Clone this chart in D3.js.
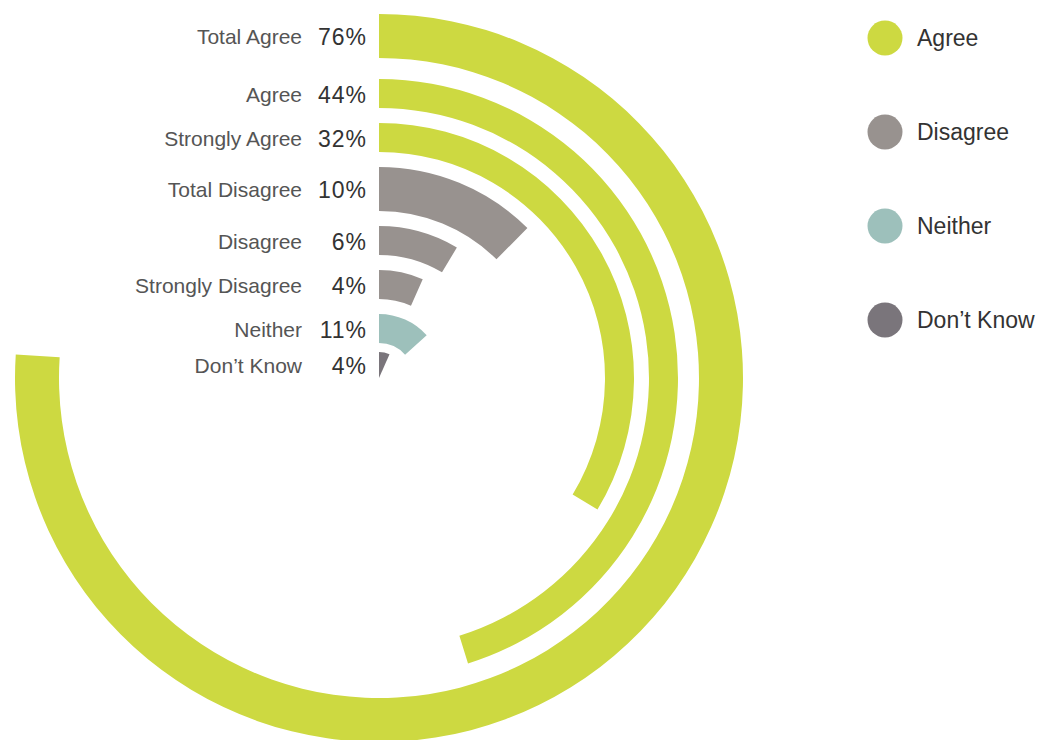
<!DOCTYPE html>
<html>
<head>
<meta charset="utf-8">
<script src="https://cdn.jsdelivr.net/npm/d3@7"></script>
<style>
  body { margin: 0; background: #fff; }
  svg { display: block; font-family: "Liberation Sans", Arial, Helvetica, sans-serif; }
</style>
</head>
<body>
<div id="chart"></div>
<script>
var categories = ["Total Agree", "Agree", "Strongly Agree", "Total Disagree", "Disagree", "Strongly Disagree", "Neither", "Don\u2019t Know"];
var values = [76, 44, 32, 10, 6, 4, 11, 4];
var groups = ["Agree", "Agree", "Agree", "Disagree", "Disagree", "Disagree", "Neither", "Don\u2019t Know"];
var legendKeys = ["Agree", "Disagree", "Neither", "Don\u2019t Know"];
var legendColors = ["#cdd941", "#98928f", "#9dc0bb", "#7a757b"];

document.addEventListener("DOMContentLoaded", function() {
    drawChart(document.querySelector("#chart"));
});

function drawChart(wrapper) {
    var width = 1046, height = 740;
    var cx = 379, cy = 378, outerR = 364;

    var svg = d3.select(wrapper).append("svg")
        .attr("width", width)
        .attr("height", height);

    var color = d3.scaleOrdinal().domain(legendKeys).range(legendColors);

    // sweep: percent -> angle (radians, clockwise from 12 o'clock)
    var angle = d3.scaleLinear()
        .domain([0, 100])
        .range([10 * Math.PI / 180, 357 * Math.PI / 180]);

    // ring radii: "Total" rows are thicker, rings packed inward
    var rings = [];
    var r = outerR;
    var last = categories.length - 1;
    categories.forEach(function(c, i) {
        var thick = c.indexOf("Total") === 0 ? 44 : 29;
        var inner = r - thick;
        rings.push({
            label: c,
            value: values[i],
            group: groups[i],
            outer: r,
            inner: Math.max(0, inner)
        });
        var gap = i === 0 ? 21 : (i === last - 1 ? 9 : 15);
        r = inner - gap;
    });

    var arc = d3.arc()
        .innerRadius(function(d) { return d.inner; })
        .outerRadius(function(d) { return d.outer; })
        .startAngle(0)
        .endAngle(function(d) { return angle(d.value); });

    var g = svg.append("g").attr("transform", "translate(" + cx + "," + cy + ")");

    g.selectAll("path.ring")
        .data(rings)
        .enter().append("path")
        .attr("class", "ring")
        .attr("d", arc)
        .attr("fill", function(d) { return color(d.group); });

    var labelY = function(d) { return cy - (d.outer + d.inner) / 2; };

    svg.selectAll("text.cat")
        .data(rings)
        .enter().append("text")
        .attr("class", "cat")
        .attr("x", 302)
        .attr("y", labelY)
        .attr("dy", "0.4em")
        .attr("text-anchor", "end")
        .attr("font-size", 21)
        .attr("fill", "#555")
        .text(function(d) { return d.label; });

    svg.selectAll("text.val")
        .data(rings)
        .enter().append("text")
        .attr("class", "val")
        .attr("x", 367)
        .attr("y", labelY)
        .attr("dy", "0.4em")
        .attr("text-anchor", "end")
        .attr("font-size", 23)
        .attr("letter-spacing", 1)
        .attr("fill", "#333")
        .text(function(d) { return d.value + "%"; });

    // legend
    var ly = d3.scalePoint().domain(legendKeys).range([38, 320]);
    var legend = svg.selectAll("g.legend")
        .data(legendKeys)
        .enter().append("g")
        .attr("class", "legend")
        .attr("transform", function(d) { return "translate(885," + ly(d) + ")"; });

    legend.append("circle")
        .attr("r", 17.5)
        .attr("fill", function(d) { return color(d); });

    legend.append("text")
        .attr("x", 32)
        .attr("dy", "0.35em")
        .attr("font-size", 23)
        .attr("fill", "#333")
        .text(function(d) { return d; });
}
</script>
</body>
</html>
